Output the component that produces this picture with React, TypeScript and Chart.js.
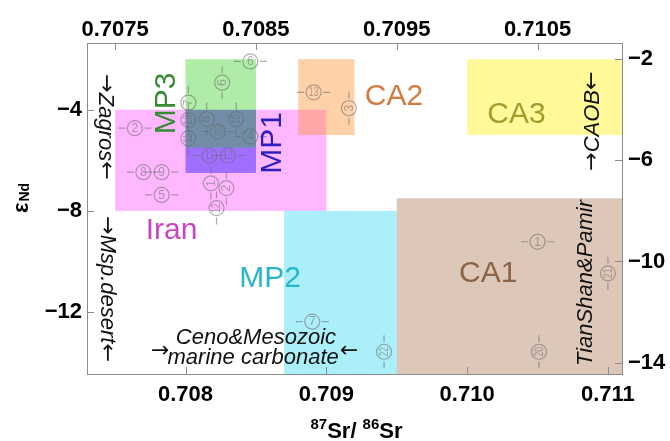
import React, { useEffect, useRef } from 'react';
import { Chart, registerables } from 'chart.js';

Chart.register(...registerables);

// ---------- axis ranges & ticks ----------
const X_MIN = 0.7073;
const X_MAX = 0.7111;
const Y_MIN = -14.45;
const Y_MAX = -1.36;
const bottomTicks = [0.708, 0.709, 0.71, 0.711];
const topTicks = [0.7075, 0.7085, 0.7095, 0.7105];
const leftTicks = [-4, -8, -12];
const rightTicks = [-2, -6, -10, -14];

// ---------- source regions (rectangles) ----------
const regionNames = ['Iran', 'MP1', 'MP3', 'CA2', 'CA3', 'MP2', 'CA1'];
const regionX0 = [0.7075, 0.708, 0.708, 0.7088, 0.71, 0.7087, 0.7095];
const regionX1 = [0.709, 0.7085, 0.7085, 0.7092, 0.7111, 0.7095, 0.7111];
const regionY0 = [-8, -6.5, -5.5, -5, -5, -15, -15];
const regionY1 = [-4, -4, -2, -2, -2, -8, -7.5];
// label anchor (data coords) and rotation (deg)
const regionLabelX = [0.7079, 0.70861, 0.70786, 0.70948, 0.71035, 0.7086, 0.71015];
const regionLabelY = [-8.75, -5.31, -3.75, -3.45, -4.14, -10.65, -10.43];
const regionLabelRot = [0, -90, -90, 0, 0, 0, 0];

// ---------- numbered samples ----------
const pointNum = [6, 6, 7, 2, 13, 11, 8, 10, 10, 4, 11, 12, 8, 9, 5, 1, 2, 12, 13, 3, 1, 21, 20, 22, 7];
const pointX = [
  0.70846, 0.70826, 0.70802, 0.70764, 0.70802, 0.70802, 0.70815, 0.70836, 0.70823, 0.70846,
  0.70817, 0.7083, 0.7077, 0.70783, 0.70783, 0.70818, 0.70829, 0.70822, 0.70891, 0.70916,
  0.7105, 0.711, 0.71051, 0.70941, 0.7089,
];
const pointY = [
  -2.09, -2.93, -3.72, -4.73, -4.4, -5.13, -4.37, -4.37, -4.86, -5.06,
  -5.81, -5.81, -6.47, -6.47, -7.37, -6.91, -7.1, -7.89, -3.31, -3.94,
  -9.22, -10.47, -13.57, -13.57, -12.38,
];
// true = vertical error bar with rotated number
const pointVertical = [
  false, true, true, false, true, true, true, true, false, false,
  false, false, false, false, false, true, true, true, false, true,
  false, true, true, true, false,
];

// ---------- end-member annotations ----------
const noteText = ['Zagros', 'Msp.desert', 'CAOB', 'TianShan&Pamir'];
const noteArrows = [true, true, true, false];
const noteX = [0.70743, 0.70744, 0.71089, 0.71084];
const noteY = [-4.68, -11.09, -4.45, -10.85];
const noteRot = [90, 90, -90, -90];
const carbLines = ['Ceno&Mesozoic', 'marine carbonate'];
const carbX = [0.7085, 0.70848];
const carbY = [-13.03, -13.82];

// ---------- styles ----------
const regionFill = [
  'rgba(255,0,255,0.28)',
  'rgba(20,0,255,0.40)',
  'rgba(20,200,0,0.34)',
  'rgba(255,140,40,0.40)',
  'rgba(255,240,0,0.40)',
  'rgba(0,205,240,0.33)',
  'rgba(150,85,40,0.33)',
];
const regionText = [
  'rgb(200,70,190)',
  'rgb(45,30,190)',
  'rgb(55,140,50)',
  'rgb(212,122,62)',
  'rgb(160,158,45)',
  'rgb(40,182,202)',
  'rgb(140,100,72)',
];
const FRAME = '#8c8c8c';
const PT = 'rgba(105,105,105,0.55)';
const FONT = 'Liberation Sans';
const NOTE_FONT = `italic 22px ${FONT}`;
const ARROW_FONT = `22px "DejaVu Sans"`;

function drawSegments(ctx: CanvasRenderingContext2D, segs: [string, string][], cx: number, cy: number) {
  let total = 0;
  segs.forEach(([t, f]) => { ctx.font = f; total += ctx.measureText(t).width; });
  let x = cx - total / 2;
  ctx.textAlign = 'left';
  ctx.textBaseline = 'middle';
  segs.forEach(([t, f]) => {
    ctx.font = f;
    ctx.fillText(t, x, cy);
    x += ctx.measureText(t).width;
  });
}

const overlay = {
  id: 'overlay',
  beforeDatasetsDraw(chart: any) {
    const { ctx, chartArea, scales } = chart;
    const xs = scales.x;
    const ys = scales.y;
    ctx.save();
    ctx.beginPath();
    ctx.rect(chartArea.left, chartArea.top, chartArea.right - chartArea.left, chartArea.bottom - chartArea.top);
    ctx.clip();
    regionNames.forEach((_, i) => {
      const x0 = xs.getPixelForValue(regionX0[i]);
      const x1 = xs.getPixelForValue(regionX1[i]);
      const y0 = ys.getPixelForValue(regionY0[i]);
      const y1 = ys.getPixelForValue(regionY1[i]);
      ctx.fillStyle = regionFill[i];
      ctx.fillRect(Math.min(x0, x1), Math.min(y0, y1), Math.abs(x1 - x0), Math.abs(y1 - y0));
    });
    ctx.restore();
  },
  afterDatasetsDraw(chart: any) {
    const { ctx, scales } = chart;
    const xs = scales.x;
    const ys = scales.y;
    const meta = chart.getDatasetMeta(0);
    const r = 7.5;
    ctx.save();
    // numbers + error bars
    meta.data.forEach((el: any, i: number) => {
      const x = el.x;
      const y = el.y;
      const vert = pointVertical[i];
      ctx.strokeStyle = PT;
      ctx.lineWidth = 1.2;
      ctx.beginPath();
      if (vert) {
        ctx.moveTo(x, y - r - 2); ctx.lineTo(x, y - r - 9);
        ctx.moveTo(x, y + r + 2); ctx.lineTo(x, y + r + 9);
      } else {
        ctx.moveTo(x - r - 2, y); ctx.lineTo(x - r - 9, y);
        ctx.moveTo(x + r + 2, y); ctx.lineTo(x + r + 9, y);
      }
      ctx.stroke();
      const label = String(pointNum[i]);
      ctx.save();
      ctx.translate(x, y);
      if (vert) ctx.rotate(-Math.PI / 2);
      if (label.length > 1) ctx.scale(0.72, 1);
      ctx.fillStyle = PT;
      ctx.font = `12px ${FONT}`;
      ctx.textAlign = 'center';
      ctx.textBaseline = 'middle';
      ctx.fillText(label, 0, 0.5);
      ctx.restore();
    });
    // region labels
    regionNames.forEach((name, i) => {
      ctx.save();
      ctx.translate(xs.getPixelForValue(regionLabelX[i]), ys.getPixelForValue(regionLabelY[i]));
      ctx.rotate((regionLabelRot[i] * Math.PI) / 180);
      ctx.fillStyle = regionText[i];
      ctx.font = `30px ${FONT}`;
      ctx.textAlign = 'center';
      ctx.textBaseline = 'middle';
      ctx.fillText(name, 0, 1);
      ctx.restore();
    });
    // end-member notes
    ctx.fillStyle = '#111';
    noteText.forEach((t, i) => {
      ctx.save();
      ctx.translate(xs.getPixelForValue(noteX[i]), ys.getPixelForValue(noteY[i]));
      ctx.rotate((noteRot[i] * Math.PI) / 180);
      const segs: [string, string][] = noteArrows[i]
        ? [['→', ARROW_FONT], [t, NOTE_FONT], ['←', ARROW_FONT]]
        : [[t, NOTE_FONT]];
      drawSegments(ctx, segs, 0, 0);
      ctx.restore();
    });
    ctx.font = NOTE_FONT;
    ctx.textAlign = 'center';
    ctx.textBaseline = 'middle';
    carbLines.forEach((t, i) => {
      ctx.fillText(t, xs.getPixelForValue(carbX[i]), ys.getPixelForValue(carbY[i]));
    });
    const midY = (ys.getPixelForValue(carbY[0]) + ys.getPixelForValue(carbY[1])) / 2 + 3;
    ctx.font = NOTE_FONT;
    const lw = ctx.measureText(carbLines[1]).width;
    const cx = xs.getPixelForValue(carbX[1]);
    ctx.font = ARROW_FONT;
    ctx.textAlign = 'right';
    ctx.fillText('→', cx - lw / 2 + 2, midY);
    ctx.textAlign = 'left';
    ctx.fillText('←', cx + lw / 2 + 1, midY);
    ctx.restore();
  },
  afterDraw(chart: any) {
    const { ctx, chartArea, scales } = chart;
    const L = 7;
    ctx.save();
    ctx.strokeStyle = FRAME;
    ctx.lineWidth = 1;
    ctx.beginPath();
    bottomTicks.forEach((v) => {
      const p = Math.round(scales.x.getPixelForValue(v)) + 0.5;
      ctx.moveTo(p, chartArea.bottom); ctx.lineTo(p, chartArea.bottom - L);
    });
    topTicks.forEach((v) => {
      const p = Math.round(scales.x2.getPixelForValue(v)) + 0.5;
      ctx.moveTo(p, chartArea.top); ctx.lineTo(p, chartArea.top + L);
    });
    leftTicks.forEach((v) => {
      const p = Math.round(scales.y.getPixelForValue(v)) + 0.5;
      ctx.moveTo(chartArea.left, p); ctx.lineTo(chartArea.left + L, p);
    });
    rightTicks.forEach((v) => {
      const p = Math.round(scales.y2.getPixelForValue(v)) + 0.5;
      ctx.moveTo(chartArea.right, p); ctx.lineTo(chartArea.right - L, p);
    });
    ctx.stroke();

    // x title: 87Sr/ 86Sr
    ctx.fillStyle = '#000';
    ctx.textBaseline = 'alphabetic';
    ctx.textAlign = 'left';
    const parts: [string, boolean][] = [['87', true], ['Sr/ ', false], ['86', true], ['Sr', false]];
    const big = `bold 22px ${FONT}`;
    const small = `bold 15px ${FONT}`;
    let total = 0;
    parts.forEach(([t, sup]) => { ctx.font = sup ? small : big; total += ctx.measureText(t).width; });
    let px = (chartArea.left + chartArea.right) / 2 - total / 2 + 2;
    const base = chartArea.bottom + 64;
    parts.forEach(([t, sup]) => {
      ctx.font = sup ? small : big;
      ctx.fillText(t, px, sup ? base - 9 : base);
      px += ctx.measureText(t).width;
    });

    // y title: εNd
    ctx.save();
    ctx.translate(28, 198);
    ctx.rotate(-Math.PI / 2);
    ctx.font = `bold 22px ${FONT}`;
    const we = ctx.measureText('ε').width;
    ctx.font = `bold 14px ${FONT}`;
    const wn = ctx.measureText('Nd').width;
    const start = -(we + wn + 1) / 2;
    ctx.font = `bold 22px ${FONT}`;
    ctx.fillText('ε', start, 0);
    ctx.font = `bold 14px ${FONT}`;
    ctx.fillText('Nd', start + we + 1, 1);
    ctx.restore();
    ctx.restore();
  },
};

const tickFont = { family: FONT, size: 22, weight: 'bold' as const };
const minus = (v: number) => (v < 0 ? '−' + Math.abs(v) : String(v));

export default function App() {
  const ref = useRef<HTMLCanvasElement | null>(null);
  useEffect(() => {
    if (!ref.current) return;
    const chart = new Chart(ref.current, {
      type: 'scatter',
      data: {
        datasets: [
          {
            data: pointX.map((x, i) => ({ x, y: pointY[i] })),
            pointRadius: 7.5,
            pointHoverRadius: 7.5,
            pointBorderWidth: 1.2,
            borderColor: PT,
            backgroundColor: 'rgba(0,0,0,0)',
            pointBackgroundColor: 'rgba(0,0,0,0)',
            pointBorderColor: PT,
          } as any,
        ],
      },
      options: {
        animation: false,
        responsive: false,
        maintainAspectRatio: false,
        layout: { padding: 0 },
        events: [],
        plugins: { legend: { display: false }, tooltip: { enabled: false } },
        scales: {
          x: {
            type: 'linear', position: 'bottom', min: X_MIN, max: X_MAX,
            afterBuildTicks: (s: any) => { s.ticks = bottomTicks.map((v) => ({ value: v })); },
            afterFit: (s: any) => { s.height = 67; },
            grid: { display: false, drawTicks: false },
            border: { display: true, color: FRAME, width: 1 },
            ticks: { font: tickFont, color: '#000', padding: 8, autoSkip: false, maxRotation: 0, callback: (v: any) => Number(v).toFixed(3) },
          },
          x2: {
            type: 'linear', position: 'top', min: X_MIN, max: X_MAX,
            afterBuildTicks: (s: any) => { s.ticks = topTicks.map((v) => ({ value: v })); },
            afterFit: (s: any) => { s.height = 43; },
            grid: { display: false, drawTicks: false },
            border: { display: true, color: FRAME, width: 1 },
            ticks: { font: tickFont, color: '#000', padding: 0, autoSkip: false, maxRotation: 0, callback: (v: any) => Number(v).toFixed(4) },
          },
          y: {
            type: 'linear', position: 'left', min: Y_MIN, max: Y_MAX,
            afterBuildTicks: (s: any) => { s.ticks = leftTicks.map((v) => ({ value: v })); },
            afterFit: (s: any) => { s.width = 87; },
            grid: { display: false, drawTicks: false },
            border: { display: true, color: FRAME, width: 1 },
            ticks: { font: tickFont, color: '#000', padding: 5, autoSkip: false, callback: (v: any) => minus(Number(v)) },
          },
          y2: {
            type: 'linear', position: 'right', min: Y_MIN, max: Y_MAX,
            afterBuildTicks: (s: any) => { s.ticks = rightTicks.map((v) => ({ value: v })); },
            afterFit: (s: any) => { s.width = 48; },
            grid: { display: false, drawTicks: false },
            border: { display: true, color: FRAME, width: 1 },
            ticks: { font: tickFont, color: '#000', padding: 6, autoSkip: false, callback: (v: any) => minus(Number(v)) },
          },
        },
      } as any,
      plugins: [overlay],
    });
    return () => chart.destroy();
  }, []);
  return (
    <div style={{ position: 'absolute', left: 0, top: 0, width: 670, height: 441, background: '#fff' }}>
      <canvas ref={ref} width={670} height={441} style={{ display: 'block', width: 670, height: 441 }} />
    </div>
  );
}
